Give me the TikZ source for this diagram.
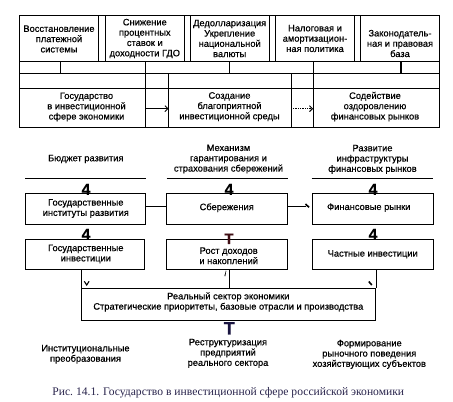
\documentclass[tikz,border=0pt]{standalone}
\usepackage{fontspec}
\setmainfont{Liberation Sans}[FakeBold=0.5]
\newfontfamily\capfont{Liberation Serif}
\usetikzlibrary{arrows.meta}
\definecolor{capcol}{rgb}{0.16,0.14,0.3}
\definecolor{tcol}{rgb}{0.25,0.06,0.08}
\definecolor{bcol}{rgb}{0.1,0.08,0.25}
\begin{document}
\begin{tikzpicture}[x=1pt,y=-1pt,
  every node/.style={font=\fontsize{9.3}{10.3}\selectfont, align=center, inner sep=0pt},
  ln/.style={line width=0.75pt},
  frame/.style={draw, line width=0.75pt},
  cell/.style={inner sep=0pt},
  big/.style={font=\fontsize{16}{16}\selectfont\bfseries},
  arr/.style={line width=0.75pt, -{Straight Barb[length=3pt,width=6pt,line width=0.9pt]}},
  tick/.style={line width=1.6pt},
]
\useasboundingbox (0,0) rectangle (453,402);
\fill[white] (0,0) rectangle (453,402);

% ---------- top table ----------
\draw[ln] (19,15) rectangle (439,127);
\foreach \yy in {61,73.3,88.3} \draw[ln] (19,\yy) -- (439,\yy);
\foreach \xx in {98.7,105.3,184.3,190.3,269,275,354,360} \draw[ln] (\xx,15) -- (\xx,61);
\foreach \xx in {60.3,145.7,229.5,313.3} \draw[ln] (\xx,61) -- (\xx,73.3);
\draw[line width=2pt] (401,61) -- (401,73.3);
\foreach \xx in {145.7,168.7,291,313.3} \draw[ln] (\xx,73.3) -- (\xx,127);

\node (t1) at (59,39) {Восстановление\\платежной\\системы};
\node (t2) at (144.8,38.5) {Снижение\\процентных\\ставок и\\доходности ГДО};
\node (t3) at (229.7,38.5) {Дедолларизация\\Укрепление\\национальной\\валюты};
\node (t4) at (315,38.5) {Налоговая и\\амортизацион-\\ная политика};
\node (t5) at (400,43.5) {Законодатель-\\ная и правовая\\база};

\node[cell, minimum width=126.7pt, minimum height=38.7pt] (st) at (82.35,107.65) {};
\node[cell, minimum width=122.3pt, minimum height=38.7pt] (cr) at (229.85,107.65) {};
\node[cell, minimum width=125.7pt, minimum height=38.7pt] (so) at (376.15,107.65) {};
\node at (86.5,107) {Государство\\в инвестиционной\\сфере экономики};
\node at (229.5,106.7) {Создание\\благоприятной\\инвестиционной среды};
\node at (375,106.7) {Содействие\\оздоровлению\\финансовых рынков};
\draw[arr] ([yshift=-1pt]st.east) -- ([yshift=-1pt]cr.west);
\draw[arr, densely dotted] ([yshift=-1pt]cr.east) -- ([yshift=-1pt]so.west);

% ---------- headings ----------
\node (h1) at (85.8,159) {Бюджет развития};
\node (h2) at (228.5,159) {Механизм\\гарантирования и\\страхования сбережений};
\node (h3) at (372.5,159.3) {Развитие\\инфраструктуры\\финансовых рынков};
\draw[ln] (25,178.7) -- (145.7,178.7);
\draw[ln] (166.7,178.7) -- (288,178.7);
\draw[ln] (311.7,178.7) -- (433.3,178.7);

\node[big] at (86,189.3) {4};
\node[big] at (229,189.3) {4};
\node[big] at (373,189.3) {4};
\node[big] at (86,234.3) {4};
\node[big] at (373,234.3) {4};

% ---------- boxes ----------
\node[frame, minimum width=120.7pt, minimum height=31pt] (g1) at (85.35,208.8) {};
\node[frame, minimum width=120.3pt, minimum height=31pt] (s1) at (226.85,208.8) {};
\node[frame, minimum width=121pt, minimum height=31pt] (f1) at (372.8,208.8) {};
\node[frame, minimum width=119.3pt, minimum height=30pt] (g2) at (84.65,254.3) {};
\node[frame, minimum width=120.3pt, minimum height=30pt] (s2) at (226.85,254.3) {};
\node[frame, minimum width=121pt, minimum height=30pt] (f2) at (372.8,254.3) {};
\node[frame, minimum width=293.8pt, minimum height=31.7pt] (R) at (228.6,304.15) {};

\node at (85.8,208.5) {Государственные\\институты развития};
\node at (226.7,207.7) {Сбережения};
\node at (368.8,207.7) {Финансовые рынки};
\node at (85.8,254) {Государственные\\инвестиции};
\node at (228.7,255.8) {Рост доходов\\и накоплений};
\node at (372.7,254.3) {Частные инвестиции};
\node at (228.3,302) {Реальный сектор экономики\\Стратегические приоритеты, базовые отрасли и производства};

% connectors
\draw[ln] (g1.east |- 0,206.7) -- (s1.west |- 0,206.7);
\draw[ln] (s1.east |- 0,206.7) coordinate (m1) -- (306,206.7) coordinate (m2);
\draw[tick] (305.5,204) -- (309,207.3);
\draw[ln] (R.north west |- g2.south) -- (R.north west);
\draw[line width=1.1pt] (84.3,281.3) -- (86.7,285) -- (89.1,281.3);
\draw[ln] (229,0 |- s2.south) -- (229,0 |- R.north);
\draw[ln] (R.north east |- f2.south) -- (R.north east);
\draw[tick] (368.8,281.5) -- (371.8,285);
\node[font=\fontsize{7}{7}\selectfont\itshape] at (225.3,273.5) {i};

\node[font=\fontsize{15}{15}\selectfont\bfseries, text=tcol] at (229,238.8) {T};
\node[font=\fontsize{18}{18}\selectfont\bfseries, text=bcol] at (229.3,328.3) {T};

% ---------- bottom texts ----------
\node (b1) at (85.5,354.3) {Институциональные\\преобразования};
\node (b2) at (228,353.3) {Реструктуризация\\предприятий\\реального сектора};
\node (b3) at (369.3,354.3) {Формирование\\рыночного поведения\\хозяйствующих субъектов};

\node[font=\capfont\fontsize{11.6}{11.6}\selectfont, text=capcol] at (228.3,392.7) {Рис.\ 14.1. Государство в инвестиционной сфере российской экономики};
\end{tikzpicture}
\end{document}
